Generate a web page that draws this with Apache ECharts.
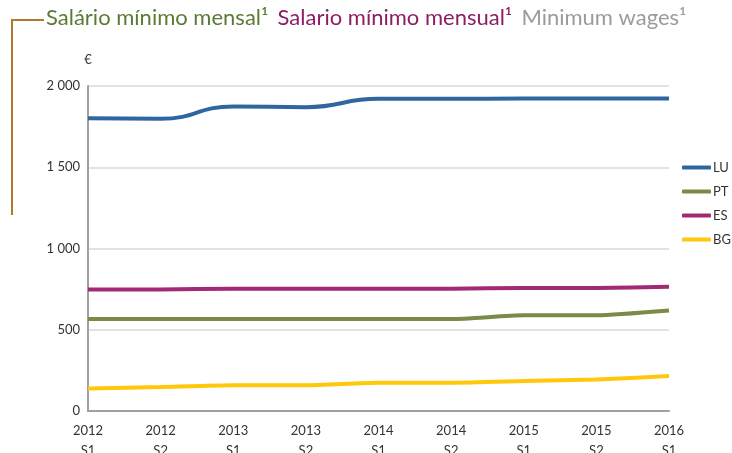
<!DOCTYPE html>
<html>
<head>
<meta charset="utf-8">
<script src="https://cdn.jsdelivr.net/npm/echarts@6/dist/echarts.min.js"></script>
<style>
  html, body { margin: 0; padding: 0; background: #fff; }
  #main { width: 732px; height: 453px; }
</style>
</head>
<body>
<div id="main"></div>
<script>
// periods and monthly minimum wages (EUR)
var periods = ['2012\nS1', '2012\nS2', '2013\nS1', '2013\nS2', '2014\nS1', '2014\nS2', '2015\nS1', '2015\nS2', '2016\nS1'];
var lu = [1801, 1798, 1874, 1870, 1921, 1921, 1923, 1923, 1923];
var pt = [566, 566, 566, 566, 566, 566, 589, 589, 618];
var es = [748, 748, 753, 753, 753, 753, 757, 757, 764];
var bg = [138, 148, 159, 159, 174, 174, 184, 194, 215];
var yTicks = [0, 500, 1000, 1500, 2000];

var chart = echarts.init(document.getElementById('main'));
var font = 'Lato';

function makeLine(name, data, color, smooth) {
  return {
    name: name,
    type: 'line',
    data: data,
    smooth: smooth,
    symbol: 'none',
    lineStyle: { color: color, width: 4 },
    itemStyle: { color: color }
  };
}

var option = {
  animation: false,
  textStyle: { fontFamily: font },
  title: {
    left: 46,
    top: 7,
    padding: 0,
    text: '{pt|Salário mínimo mensal¹}  {es|Salario mínimo mensual¹}  {en|Minimum wages¹}',
    textStyle: {
      fontWeight: 'normal',
      rich: {
        pt: { color: '#5b7a34', fontSize: 22, fontFamily: font, fontWeight: 'normal' },
        es: { color: '#8c1e63', fontSize: 22, fontFamily: font, fontWeight: 'normal' },
        en: { color: '#9b9b9b', fontSize: 22, fontFamily: font, fontWeight: 'normal' }
      }
    }
  },
  graphic: [
    {
      type: 'polyline',
      shape: { points: [[44, 20], [12, 20], [12, 215]] },
      style: { stroke: '#b5772a', lineWidth: 2, fill: null }
    }
  ],
  legend: {
    orient: 'vertical',
    left: 682,
    top: 161,
    padding: 0,
    itemWidth: 29,
    itemHeight: 4,
    itemGap: 11,
    icon: 'roundRect',
    textStyle: { fontSize: 13, color: '#333', padding: [0, 0, 0, -3] },
    data: ['LU', 'PT', 'ES', 'BG']
  },
  grid: { left: 88, right: 63, top: 86, bottom: 42, outerBoundsMode: 'none', containLabel: false },
  xAxis: {
    type: 'category',
    boundaryGap: false,
    data: periods,
    axisLine: { lineStyle: { color: '#a0a0a0', width: 2 } },
    axisTick: { show: false },
    axisLabel: { fontSize: 13, color: '#333', lineHeight: 20, margin: 10 }
  },
  yAxis: {
    type: 'value',
    min: yTicks[0],
    max: yTicks[yTicks.length - 1],
    interval: 500,
    name: '€',
    nameLocation: 'end',
    nameGap: 20,
    nameTextStyle: { fontSize: 13, color: '#333', align: 'center' },
    axisLine: { show: true, lineStyle: { color: '#a0a0a0', width: 2 } },
    axisTick: { show: false },
    splitLine: { lineStyle: { color: '#d9d9d9', width: 1.5 } },
    axisLabel: {
      fontSize: 13,
      color: '#333',
      margin: 8,
      formatter: function (v) {
        return String(v).replace(/\B(?=(\d{3})+(?!\d))/g, ' ');
      }
    }
  },
  series: [
    makeLine('LU', lu, '#2e66a0', 0.5),
    makeLine('PT', pt, '#7a8a47', 0.2),
    makeLine('ES', es, '#a22a74', 0.2),
    makeLine('BG', bg, '#ffc80a', 0.2)
  ]
};

chart.setOption(option);
</script>
</body>
</html>
